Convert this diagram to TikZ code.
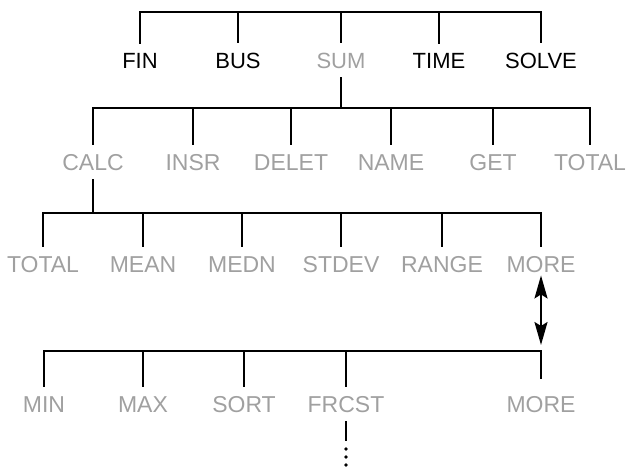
\documentclass[tikz,border=0pt]{standalone}
\usepackage{fontspec}
\setmainfont{Liberation Sans}
\usetikzlibrary{arrows.meta}
\definecolor{lightgr}{RGB}{160,160,160}
\tikzset{
  lblk/.style={font=\fontsize{22}{22}\selectfont, text=black, inner xsep=0pt, inner ysep=9pt, anchor=base},
  lgry/.style={lblk, font=\fontsize{23}{23}\selectfont, text=lightgr},
  bar/.style={draw=black, line width=2.5pt},
  dbl/.style={draw=black, line width=2.2pt, {Stealth[length=23pt,width=13pt,inset=4pt]}-{Stealth[length=23pt,width=13pt,inset=4pt]}}
}
\begin{document}
\begin{tikzpicture}[x=1pt,y=-1pt]
\useasboundingbox (0,0) rectangle (637,471);
% row 1
\node[lblk] (fin)   at (140,68) {FIN};
\node[lblk] (bus)   at (238,68) {BUS};
\node[lgry,font=\fontsize{22}{22}\selectfont] (sum) at (341,68) {SUM};
\node[lblk] (time)  at (439,68) {TIME};
\node[lblk] (solve) at (541,68) {SOLVE};
% row 2
\node[lgry] (calc)  at (93,170)  {CALC};
\node[lgry] (insr)  at (193,170) {INSR};
\node[lgry] (delet) at (291,170) {DELET};
\node[lgry] (name)  at (391,170) {NAME};
\node[lgry] (get)   at (493,170) {GET};
\node[lgry] (total) at (590,170) {TOTAL};
% row 3
\node[lgry] (totalb) at (43,272)  {TOTAL};
\node[lgry] (mean)   at (143,272) {MEAN};
\node[lgry] (medn)   at (242,272) {MEDN};
\node[lgry] (stdev)  at (341,272) {STDEV};
\node[lgry] (range)  at (442,272) {RANGE};
\node[lgry] (morea)  at (541,272) {MORE};
% row 4
\node[lgry] (min)    at (44,412)  {MIN};
\node[lgry] (max)    at (143,412) {MAX};
\node[lgry] (sort)   at (244,412) {SORT};
\node[lgry] (frcst)  at (346,412) {FRCST};
\node[lgry,inner ysep=17pt] (moreb) at (541,412) {MORE};
% bar levels
\coordinate (barA) at (0,12);
\coordinate (barB) at (0,108);
\coordinate (barC) at (0,213);
\coordinate (barD) at (0,351);
% top bar
\draw[bar] (fin.north) |- (solve.north |- barA) -- (solve.north);
\foreach \n in {bus,sum,time}{\draw[bar] (\n.north |- barA) -- (\n.north);}
% level 2
\draw[bar] (sum.south) -- (sum.south |- barB);
\draw[bar] (calc.north) |- (total.north |- barB) -- (total.north);
\foreach \n in {insr,delet,name,get}{\draw[bar] (\n.north |- barB) -- (\n.north);}
% level 3
\draw[bar] (calc.south) -- (calc.south |- barC);
\draw[bar] (totalb.north) |- (morea.north |- barC) -- (morea.north);
\foreach \n in {mean,medn,stdev,range}{\draw[bar] (\n.north |- barC) -- (\n.north);}
% double arrow
\draw[dbl, shorten <=-6pt, shorten >=6pt] (morea.south) -- (moreb.north |- barD);
% level 4
\draw[bar] (min.north) |- (moreb.north |- barD) -- (moreb.north);
\foreach \n in {max,sort,frcst}{\draw[bar] (\n.north |- barD) -- (\n.north);}
% continuation below FRCST
\coordinate (fend) at (346,441);
\draw[bar] (frcst.south) -- (fend);
\foreach \yy in {449,457,465}{\fill (346,\yy) circle (1.8pt);}
\end{tikzpicture}
\end{document}
